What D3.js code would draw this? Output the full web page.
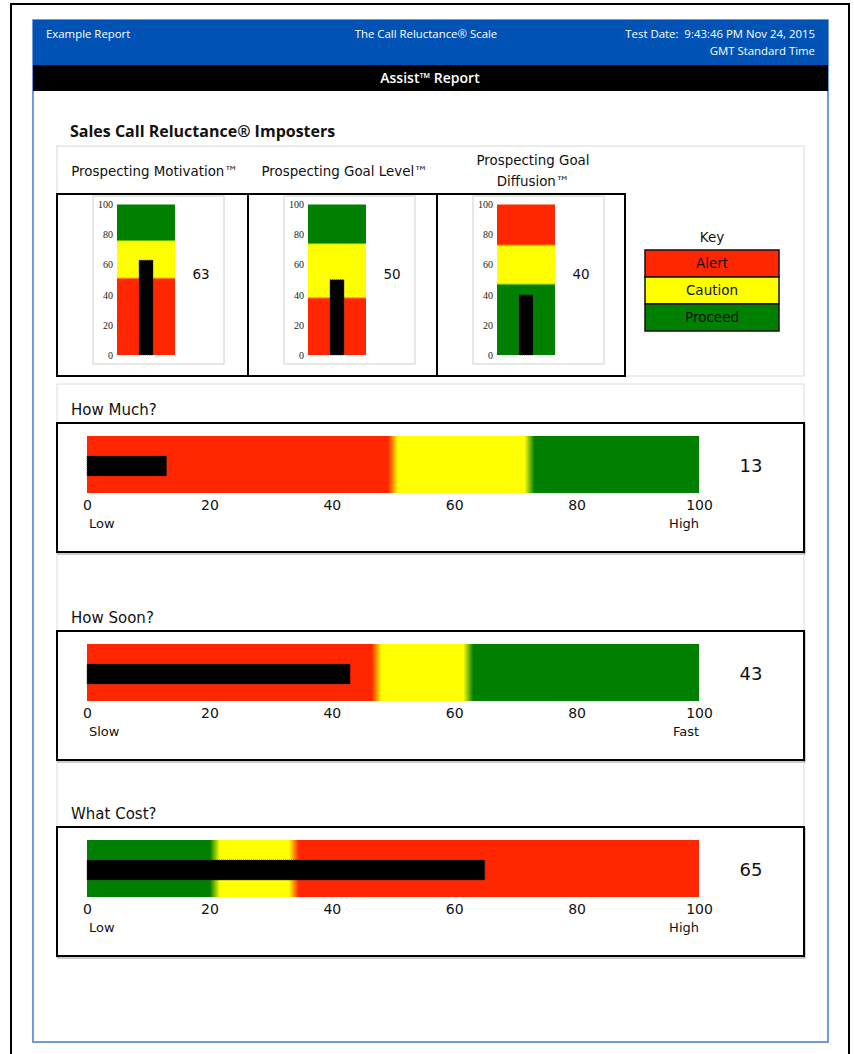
<!DOCTYPE html>
<html>
<head>
<meta charset="utf-8">
<script src="https://cdn.jsdelivr.net/npm/d3@7"></script>
<style>
  html, body { margin: 0; padding: 0; background: #fff; }
  svg { display: block; }
  text { white-space: pre; }
</style>
</head>
<body>
<svg id="chart" width="854" height="1054"></svg>
<script>
// ---------------- DATA ----------------
const headerLeft = "Example Report";
const headerCenter = "The Call Reluctance® Scale";
const headerRight = ["Test Date:  9:43:46 PM Nov 24, 2015", "GMT Standard Time"];
const reportTitle = "Assist™ Report";
const sectionTitle = "Sales Call Reluctance® Imposters";

const gaugeTitles = [["Prospecting Motivation™"], ["Prospecting Goal Level™"], ["Prospecting Goal", "Diffusion™"]];
const gaugeValues = [63, 50, 40];
const gaugeBreaks = [[51, 76], [38, 74], [47, 73]];
const gaugeOrder = [["alert", "caution", "proceed"], ["alert", "caution", "proceed"], ["proceed", "caution", "alert"]];
const gaugeTicks = [0, 20, 40, 60, 80, 100];

const keyTitle = "Key";
const keyLabels = ["Alert", "Caution", "Proceed"];
const keyLevels = ["alert", "caution", "proceed"];

const bulletTitles = ["How Much?", "How Soon?", "What Cost?"];
const bulletValues = [13, 43, 65];
const bulletBreaks = [[50, 72.3], [47.3, 62.3], [20.9, 33.8]];
const bulletOrder = [["alert", "caution", "proceed"], ["alert", "caution", "proceed"], ["proceed", "caution", "alert"]];
const bulletLow = ["Low", "Slow", "Low"];
const bulletHigh = ["High", "Fast", "High"];
const bulletTicks = [0, 20, 40, 60, 80, 100];

// ---------------- STYLE ----------------
const levelColor = { alert: "#ff2600", caution: "#ffff00", proceed: "#008000" };
const SANS = '"DejaVu Sans", "Lucida Grande", sans-serif';
const NARROW = '"Open Sans", "DejaVu Sans", sans-serif';

const svg = d3.select("#chart");
const defs = svg.append("defs");

// outer frames
svg.append("rect").attr("x", 11).attr("y", 4).attr("width", 838).attr("height", 1080)
  .attr("fill", "none").attr("stroke", "#000").attr("stroke-width", 2);
svg.append("rect").attr("x", 33).attr("y", 20).attr("width", 795).attr("height", 1022)
  .attr("fill", "#fff").attr("stroke", "#3f7ad0").attr("stroke-width", 1.5);

// header
svg.append("rect").attr("x", 33).attr("y", 20).attr("width", 795).attr("height", 45).attr("fill", "#0053b4");
svg.append("rect").attr("x", 33).attr("y", 65).attr("width", 795).attr("height", 26).attr("fill", "#000");
const hdr = svg.append("g").attr("fill", "#fff").style("font-family", NARROW).style("font-size", "11.4px");
hdr.append("text").attr("x", 46).attr("y", 38).text(headerLeft);
hdr.append("text").attr("x", 426).attr("y", 38).attr("text-anchor", "middle").text(headerCenter);
hdr.selectAll("text.r").data(headerRight).join("text").attr("class", "r")
  .attr("x", 815).attr("y", (d, i) => 38 + i * 17).attr("text-anchor", "end").text(d => d);
svg.append("text").attr("x", 430).attr("y", 83).attr("text-anchor", "middle").attr("fill", "#fff")
  .style("font-family", NARROW).style("font-size", "14px").style("font-weight", "600").text(reportTitle);

// section title
svg.append("text").attr("x", 70).attr("y", 137).style("font-family", NARROW)
  .style("font-size", "16px").style("font-weight", "700").attr("fill", "#111").text(sectionTitle);

// section 1 gray box
svg.append("rect").attr("x", 57).attr("y", 146).attr("width", 747).attr("height", 230)
  .attr("fill", "none").attr("stroke", "#d8d8d8").attr("stroke-width", 1);

function makeGradient(id, order, breaks, vertical, w) {
  const g = defs.append("linearGradient").attr("id", id);
  if (vertical) g.attr("x1", 0).attr("y1", 1).attr("x2", 0).attr("y2", 0);
  else g.attr("x1", 0).attr("y1", 0).attr("x2", 1).attr("y2", 0);
  const stops = [[0, order[0]]];
  breaks.forEach((b, i) => { stops.push([b - w, order[i]]); stops.push([b + w, order[i + 1]]); });
  stops.push([100, order[order.length - 1]]);
  g.selectAll("stop").data(stops).join("stop")
    .attr("offset", d => d[0] + "%").attr("stop-color", d => levelColor[d[1]]);
}

// ---------------- VERTICAL GAUGES ----------------
const boxX = [57, 248, 437];
const boxW = [191, 189, 188];
const y = d3.scaleLinear().domain([0, 100]).range([355, 204.5]);

gaugeTitles.forEach((lines, i) => {
  const cx = boxX[i] + boxW[i] / 2 + 2;
  const t = svg.append("text").attr("text-anchor", "middle").style("font-family", SANS)
    .style("font-size", "13.4px").attr("fill", "#111");
  lines.forEach((ln, j) => {
    t.append("tspan").attr("x", cx).attr("y", (lines.length === 1 ? 176 : 165) + j * 21).text(ln);
  });
});

gaugeValues.forEach((v, i) => {
  const g = svg.append("g");
  const x0 = boxX[i];
  g.append("rect").attr("x", x0 + 36).attr("y", 196).attr("width", 131).attr("height", 168)
    .attr("fill", "#fff").attr("stroke", "#d0d0d0").attr("stroke-width", 1);
  makeGradient("vg" + i, gaugeOrder[i], gaugeBreaks[i], true, 0.7);
  const bx = x0 + 60, bw = 58;
  g.append("rect").attr("x", bx).attr("y", y(100)).attr("width", bw).attr("height", y(0) - y(100))
    .attr("fill", "url(#vg" + i + ")");
  g.append("rect").attr("x", bx + bw / 2 - 7).attr("y", y(v)).attr("width", 14).attr("height", y(0) - y(v))
    .attr("fill", "#000").attr("stroke", "#333").attr("stroke-width", 0.8).attr("stroke-dasharray", "1,1");
  const ax = g.append("g").attr("transform", `translate(${bx - 1},0)`)
    .call(d3.axisLeft(y).tickValues(gaugeTicks).tickSize(0).tickPadding(3));
  ax.select(".domain").remove();
  ax.selectAll("text").style("font-family", '"Liberation Serif", "DejaVu Serif", serif')
    .style("font-size", "10px").attr("fill", "#222");
  g.append("text").attr("x", x0 + 144).attr("y", 279).attr("text-anchor", "middle")
    .style("font-family", SANS).style("font-size", "13.5px").attr("fill", "#111").text(v);
  g.append("rect").attr("x", x0).attr("y", 194).attr("width", boxW[i]).attr("height", 182)
    .attr("fill", "none").attr("stroke", "#000").attr("stroke-width", 2);
});

// key
svg.append("text").attr("x", 712).attr("y", 242).attr("text-anchor", "middle")
  .style("font-family", SANS).style("font-size", "13.5px").attr("fill", "#111").text(keyTitle);
const keyG = svg.append("g");
keyLabels.forEach((lab, i) => {
  keyG.append("rect").attr("x", 645).attr("y", 250 + i * 27).attr("width", 134).attr("height", 27)
    .attr("fill", levelColor[keyLevels[i]]).attr("stroke", "#111").attr("stroke-width", 1.5);
  keyG.append("text").attr("x", 712).attr("y", 268 + i * 27).attr("text-anchor", "middle")
    .style("font-family", SANS).style("font-size", "13.5px").attr("fill", "#111").text(lab);
});

// ---------------- HORIZONTAL BULLETS ----------------
svg.append("path").attr("d", "M57,958 V384 H804 V958").attr("fill", "none")
  .attr("stroke", "#dcdcdc").attr("stroke-width", 1);

const boxTops = [423, 631, 827];
const x = d3.scaleLinear().domain([0, 100]).range([87, 699]);

bulletValues.forEach((v, i) => {
  const top = boxTops[i];
  const g = svg.append("g");
  g.append("text").attr("x", 71).attr("y", top - 8).style("font-family", SANS)
    .style("font-size", "15px").attr("fill", "#111").text(bulletTitles[i]);
  g.append("rect").attr("x", 58).attr("y", top + 1).attr("width", 747).attr("height", 130)
    .attr("fill", "none").attr("stroke", "#999").attr("stroke-width", 1);
  g.append("rect").attr("x", 57).attr("y", top).attr("width", 747).attr("height", 129)
    .attr("fill", "#fff").attr("stroke", "#000").attr("stroke-width", 2);
  makeGradient("hg" + i, bulletOrder[i], bulletBreaks[i], false, 0.8);
  g.append("rect").attr("x", x(0)).attr("y", top + 13).attr("width", x(100) - x(0)).attr("height", 57)
    .attr("fill", "url(#hg" + i + ")");
  g.append("rect").attr("x", x(0)).attr("y", top + 33).attr("width", x(v) - x(0)).attr("height", 20)
    .attr("fill", "#000").attr("stroke", "#333").attr("stroke-width", 0.8).attr("stroke-dasharray", "1,1");
  const ax = g.append("g").attr("transform", `translate(0,${top + 70})`)
    .call(d3.axisBottom(x).tickValues(bulletTicks).tickSize(0).tickPadding(7));
  ax.select(".domain").remove();
  ax.selectAll("text").style("font-family", SANS).style("font-size", "14px").attr("fill", "#111");
  g.append("text").attr("x", 89).attr("y", top + 105).style("font-family", SANS)
    .style("font-size", "13px").attr("fill", "#111").text(bulletLow[i]);
  g.append("text").attr("x", 699).attr("y", top + 105).attr("text-anchor", "end").style("font-family", SANS)
    .style("font-size", "13px").attr("fill", "#111").text(bulletHigh[i]);
  g.append("text").attr("x", 751).attr("y", top + 49).attr("text-anchor", "middle").style("font-family", SANS)
    .style("font-size", "18px").attr("fill", "#111").text(v);
});
</script>
</body>
</html>
